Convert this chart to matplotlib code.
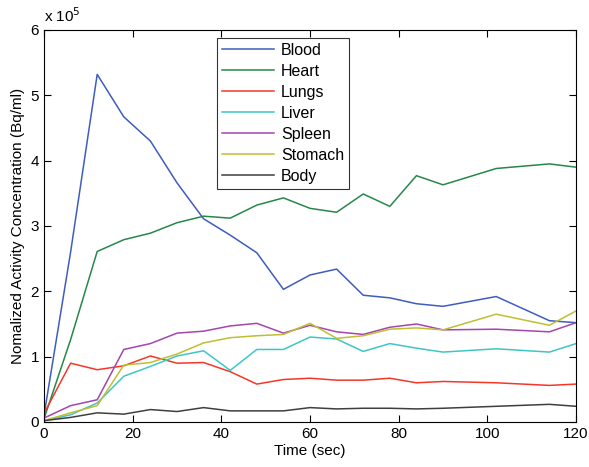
import matplotlib
matplotlib.use('Agg')
import matplotlib.pyplot as plt

# time points (sec)
time = [0, 6, 12, 18, 24, 30, 36, 42, 48, 54, 60, 66, 72, 78, 84, 90, 102, 114, 120]

# concentrations in units of 1e5 Bq/ml
blood = [0.10, 2.60, 5.32, 4.67, 4.30, 3.66, 3.11, 2.86, 2.59, 2.03, 2.25, 2.34,
         1.94, 1.90, 1.81, 1.77, 1.92, 1.55, 1.52]
heart = [0.05, 1.26, 2.61, 2.79, 2.89, 3.05, 3.15, 3.12, 3.32, 3.43, 3.27, 3.21,
         3.49, 3.30, 3.77, 3.63, 3.88, 3.95, 3.90]
lungs = [0.13, 0.90, 0.80, 0.86, 1.01, 0.90, 0.91, 0.77, 0.58, 0.65, 0.67, 0.64,
         0.64, 0.67, 0.60, 0.62, 0.60, 0.56, 0.58]
liver = [0.02, 0.11, 0.29, 0.70, 0.85, 1.01, 1.09, 0.79, 1.11, 1.11, 1.30, 1.27,
         1.08, 1.20, 1.13, 1.07, 1.12, 1.07, 1.20]
spleen = [0.06, 0.25, 0.34, 1.11, 1.20, 1.36, 1.39, 1.47, 1.51, 1.36, 1.48, 1.38,
          1.34, 1.45, 1.50, 1.41, 1.42, 1.38, 1.52]
stomach = [0.02, 0.14, 0.25, 0.87, 0.91, 1.04, 1.21, 1.29, 1.32, 1.34, 1.51, 1.28,
           1.32, 1.42, 1.44, 1.41, 1.65, 1.48, 1.70]
body = [0.02, 0.07, 0.14, 0.12, 0.19, 0.16, 0.22, 0.17, 0.17, 0.17, 0.22, 0.20,
        0.21, 0.21, 0.20, 0.21, 0.24, 0.27, 0.24]

names = ['Blood', 'Heart', 'Lungs', 'Liver', 'Spleen', 'Stomach', 'Body']
series = [blood, heart, lungs, liver, spleen, stomach, body]
colors = ['#3f5cbf', '#27874a', '#f5372a', '#3ec6c6', '#a545ad', '#bfbf33', '#3f3f3f']

plt.rcParams['font.family'] = ['Liberation Sans', 'DejaVu Sans']

fig = plt.figure(figsize=(5.89, 4.67), dpi=100)
ax = fig.add_axes([0.0747, 0.0964, 0.9033, 0.8394])

for name, vals, c in zip(names, series, colors):
    ax.plot(time, vals, color=c, lw=1.1, label=name)

ax.set_xlim(0, 120)
ax.set_ylim(0, 6)
ax.set_xticks(range(0, 121, 20))
ax.set_yticks(range(0, 7))
ax.tick_params(direction='in', top=True, right=True, labelsize=11, length=5, width=0.8)
for s in ax.spines.values():
    s.set_linewidth(0.8)

ax.set_xlabel('Time (sec)', fontsize=11, labelpad=2)
ax.set_ylabel('Nomalized Activity Concentration (Bq/ml)', fontsize=11, labelpad=4)
ax.text(0.0, 1.012, r'x 10$^5$', transform=ax.transAxes, fontsize=11, ha='left', va='bottom')

leg = ax.legend(loc='upper left', bbox_to_anchor=(0.325, 0.98), fontsize=11.5,
                handlelength=3.3, frameon=True, fancybox=False, borderpad=0.3,
                labelspacing=0.38, handletextpad=0.4, borderaxespad=0)
leg.get_frame().set_edgecolor('black')
leg.get_frame().set_linewidth(0.8)

plt.savefig('out.png', dpi=100, facecolor='white')
